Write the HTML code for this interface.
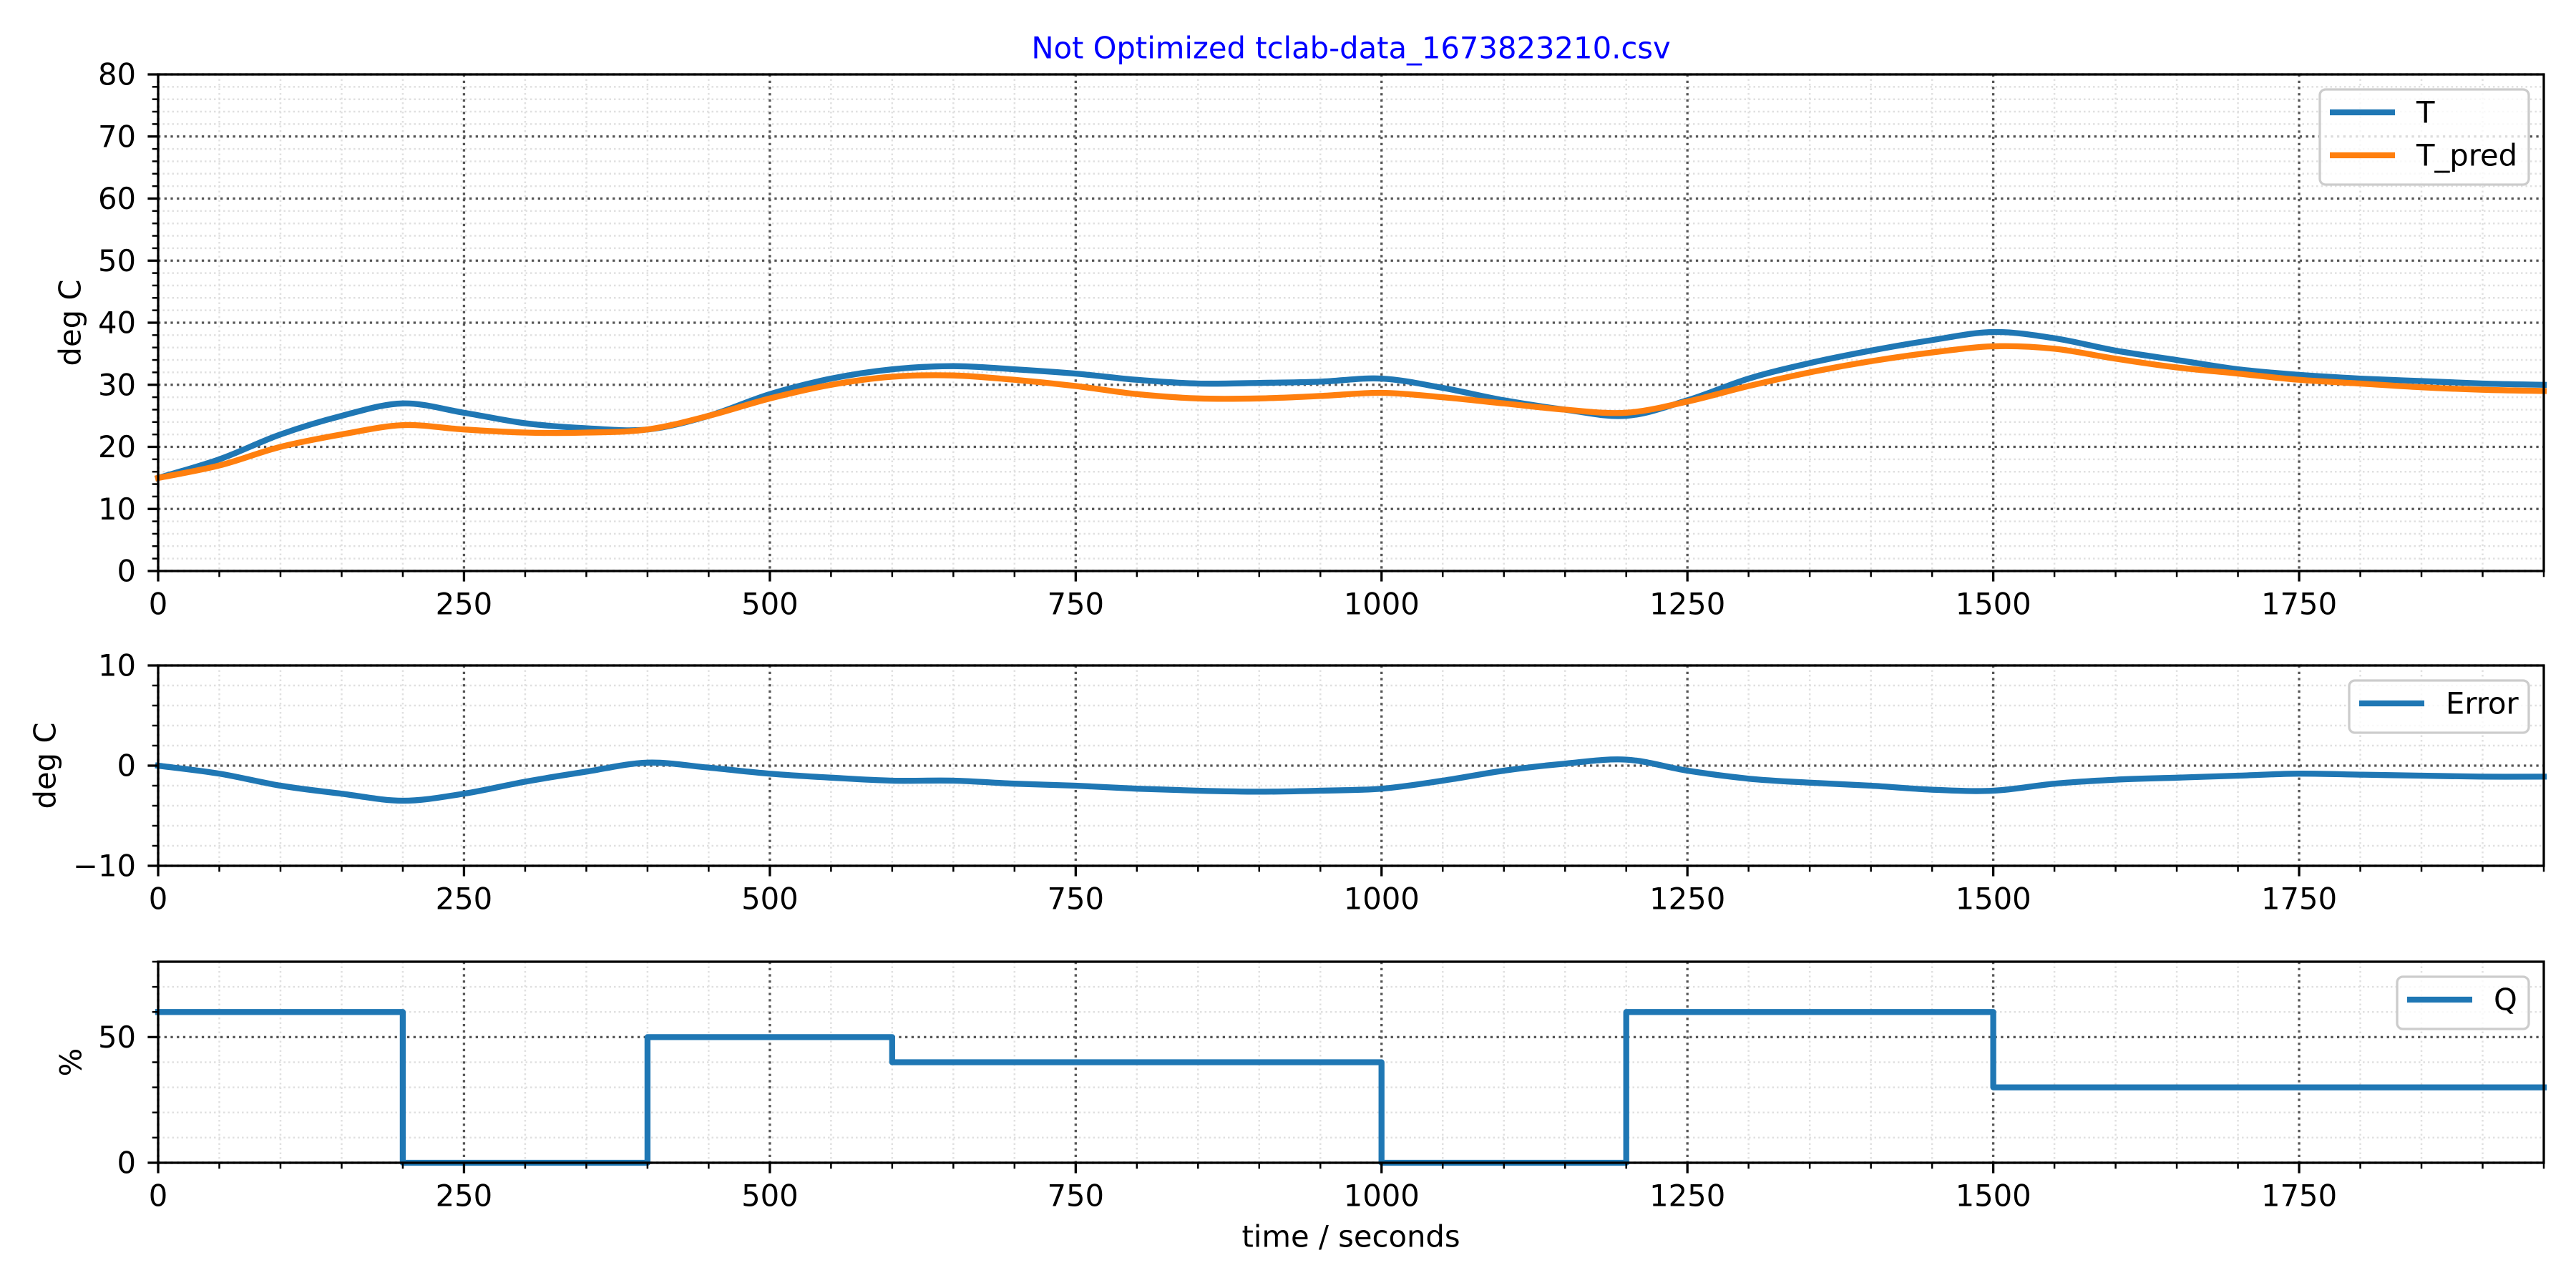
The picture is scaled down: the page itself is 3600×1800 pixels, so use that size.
<!DOCTYPE html>
<html><head><meta charset="utf-8"><title>tclab chart</title>
<style>
html,body{margin:0;padding:0;background:#fff;}
svg{display:block;}
text{font-family:"DejaVu Sans","Liberation Sans",sans-serif;}
</style></head>
<body>
<svg id="fig" width="3600" height="1800" viewBox="0 0 3600 1800" xmlns="http://www.w3.org/2000/svg">
<rect x="0" y="0" width="3600" height="1800" fill="#fff"/>
<text x="1888" y="67" font-size="41.7" fill="#0000ff" text-anchor="middle" dominant-baseline="central">Not Optimized tclab-data_1673823210.csv</text>
<text x="1888" y="1728" font-size="41.7" fill="#000" text-anchor="middle" dominant-baseline="central">time / seconds</text>
</svg>
<script>
const times = [0,50,100,150,200,250,300,350,400,450,500,550,600,650,700,750,800,850,900,950,1000,1050,1100,1150,1200,1250,1300,1350,1400,1450,1500,1550,1600,1650,1700,1750,1800,1850,1900,1950];
const tValues = [15,18,22,25,27,25.5,23.8,23,22.8,25,28.5,31,32.5,33,32.5,31.8,30.8,30.2,30.3,30.5,31,29.5,27.5,26,25,27.5,31,33.5,35.5,37.2,38.5,37.5,35.5,34,32.5,31.6,31,30.6,30.2,30];
const tPredValues = [15,17,20,22,23.5,22.8,22.3,22.3,22.8,25,27.8,30,31.3,31.5,30.8,29.8,28.5,27.8,27.8,28.2,28.7,28,27,26,25.5,27.3,29.8,32,33.8,35.2,36.2,35.8,34.2,32.8,31.8,30.8,30.2,29.6,29.2,29];
const errValues = [0,-0.8,-2,-2.8,-3.5,-2.8,-1.6,-0.6,0.3,-0.2,-0.8,-1.2,-1.5,-1.5,-1.8,-2,-2.3,-2.5,-2.6,-2.5,-2.3,-1.5,-0.5,0.2,0.6,-0.5,-1.3,-1.7,-2.0,-2.4,-2.5,-1.8,-1.4,-1.2,-1.0,-0.8,-0.9,-1.0,-1.1,-1.1];
const qTimes = [0,200,400,600,1000,1200,1500,1950];
const qValues = [60,0,50,40,0,60,30,30];
const xTickLabels = ["0","250","500","750","1000","1250","1500","1750"];
const topYTicks = ["0","10","20","30","40","50","60","70","80"];
const midYTicks = ["\u221210","0","10"];
const botYTicks = ["0","50"];

const NS = "http://www.w3.org/2000/svg";
const svg = document.getElementById('fig');
const X0 = 221, X1 = 3555, XMAX = 1950;
function xs(t){ return X0 + (t / XMAX) * (X1 - X0); }
function mk(tag, attrs, parent){ const e = document.createElementNS(NS, tag); for (const k in attrs) e.setAttribute(k, attrs[k]); (parent||svg).appendChild(e); return e; }

function pathD(px, py, smooth){
  let d = 'M' + px[0].toFixed(1) + ',' + py[0].toFixed(1);
  for (let i = 1; i < px.length; i++) {
    if (!smooth) { d += 'L' + px[i].toFixed(1) + ',' + py[i].toFixed(1); continue; }
    const i0 = Math.max(0, i - 2), i3 = Math.min(px.length - 1, i + 1);
    const c1x = px[i-1] + (px[i] - px[i0]) / 6, c1y = py[i-1] + (py[i] - py[i0]) / 6;
    const c2x = px[i] - (px[i3] - px[i-1]) / 6, c2y = py[i] - (py[i3] - py[i-1]) / 6;
    d += 'C' + c1x.toFixed(1) + ',' + c1y.toFixed(1) + ' ' + c2x.toFixed(1) + ',' + c2y.toFixed(1) + ' ' + px[i].toFixed(1) + ',' + py[i].toFixed(1);
  }
  return d;
}

function panel(name, top, bottom, ymin, ymax, major, minor, yLabels, ylabel, ylabelX, series, legend){
  const g = mk('g', {});
  
  
  const ys = v => bottom - (v - ymin) / (ymax - ymin) * (bottom - top);
  for (let t = 0; t <= XMAX; t += 50) {
    if (t % 250 === 0) continue;
    mk('line', {x1: xs(t), x2: xs(t), y1: top, y2: bottom, stroke: '#e0e0e0', 'stroke-width': 2.5, 'stroke-dasharray': '2.5,4'}, g);
  }
  for (let v = ymin; v <= ymax + 1e-9; v += minor) {
    const r = (v - ymin) / major;
    if (Math.abs(r - Math.round(r)) < 1e-9) continue;
    mk('line', {x1: X0, x2: X1, y1: ys(v), y2: ys(v), stroke: '#e0e0e0', 'stroke-width': 2.5, 'stroke-dasharray': '2.5,4'}, g);
  }
  for (let i = 0; i < xTickLabels.length; i++) {
    const t = +xTickLabels[i];
    mk('line', {x1: xs(t), x2: xs(t), y1: top, y2: bottom, stroke: '#555', 'stroke-width': 3.3, 'stroke-dasharray': '3.3,5.4'}, g);
  }
  for (let v = ymin; v <= ymax + 1e-9; v += major) {
    mk('line', {x1: X0, x2: X1, y1: ys(v), y2: ys(v), stroke: '#555', 'stroke-width': 3.3, 'stroke-dasharray': '3.3,5.4'}, g);
  }
  series.forEach(s => {
    const px = s.x.map(xs), py = s.y.map(ys);
    const p = mk('path', {d: pathD(px, py, s.smooth), fill: 'none', stroke: s.color, 'stroke-width': 8.3, 'stroke-linejoin': 'round', 'stroke-linecap': 'square'}, g);
    
    
  });
  mk('rect', {x: X0, y: top, width: X1 - X0, height: bottom - top, fill: 'none', stroke: '#000', 'stroke-width': 3.3}, g);
  for (let t = 0; t <= XMAX; t += 50) {
    const maj = t % 250 === 0;
    mk('line', {x1: xs(t), x2: xs(t), y1: bottom, y2: bottom + (maj ? 14.6 : 8.3), stroke: '#000', 'stroke-width': maj ? 3.3 : 2.5}, g);
  }
  for (let i = 0; i < xTickLabels.length; i++) {
    const tx = mk('text', {x: xs(+xTickLabels[i]), y: bottom + 46, 'font-size': 41.7, 'text-anchor': 'middle', 'dominant-baseline': 'central', fill: '#000'}, g);
    tx.textContent = xTickLabels[i];
    
    
  }
  for (let v = ymin; v <= ymax + 1e-9; v += minor) {
    const r = (v - ymin) / major;
    const maj = Math.abs(r - Math.round(r)) < 1e-9;
    mk('line', {x1: X0, x2: X0 - (maj ? 14.6 : 8.3), y1: ys(v), y2: ys(v), stroke: '#000', 'stroke-width': maj ? 3.3 : 2.5}, g);
  }
  for (let i = 0; i < yLabels.length; i++) {
    const v = ymin + i * major;
    const tx = mk('text', {x: 190, y: ys(v), 'font-size': 41.7, 'text-anchor': 'end', 'dominant-baseline': 'central', fill: '#000'}, g);
    tx.textContent = yLabels[i];
    
    
  }
  const yl = mk('text', {x: ylabelX, y: (top + bottom) / 2, 'font-size': 41.7, 'text-anchor': 'middle', 'dominant-baseline': 'central', transform: 'rotate(-90 ' + ylabelX + ' ' + ((top + bottom) / 2) + ')', fill: '#000'}, g);
  yl.textContent = ylabel;
  
  
  const lg = mk('g', {}, g);
  
  
  mk('rect', {x: legend.x, y: top + 21, width: 3534 - legend.x, height: legend.h, rx: 8, fill: 'rgba(255,255,255,0.8)', stroke: '#cccccc', 'stroke-width': 3.3}, lg);
  series.forEach((s, i) => {
    const yy = top + 21 + 32 + i * 60;
    mk('line', {x1: legend.x + 14, x2: legend.x + 105, y1: yy, y2: yy, stroke: s.color, 'stroke-width': 8.3}, lg);
    const tx = mk('text', {x: legend.x + 135, y: yy, 'font-size': 41.7, 'dominant-baseline': 'central', fill: '#000'}, lg);
    tx.textContent = s.label;
    
    
  });
}

const qx = [], qy = [];
for (let i = 0; i < qTimes.length; i++) {
  if (i > 0) { qx.push(qTimes[i]); qy.push(qValues[i - 1]); }
  qx.push(qTimes[i]); qy.push(qValues[i]);
}

panel('temperature', 104, 798, 0, 80, 10, 2, topYTicks, 'deg C', 98,
  [{name: 'T', label: 'T', x: times, y: tValues, color: '#1f77b4', smooth: true},
   {name: 'T-pred', label: 'T_pred', x: times, y: tPredValues, color: '#ff7f0e', smooth: true}],
  {x: 3242, h: 133});
panel('error', 930, 1210, -10, 10, 10, 2, midYTicks, 'deg C', 63,
  [{name: 'error', label: 'Error', x: times, y: errValues, color: '#1f77b4', smooth: true}],
  {x: 3283, h: 73});
panel('heater', 1344, 1625, 0, 80, 50, 10, botYTicks, '%', 99,
  [{name: 'Q', label: 'Q', x: qx, y: qy, color: '#1f77b4', smooth: false}],
  {x: 3350, h: 73});
</script>
</body></html>
